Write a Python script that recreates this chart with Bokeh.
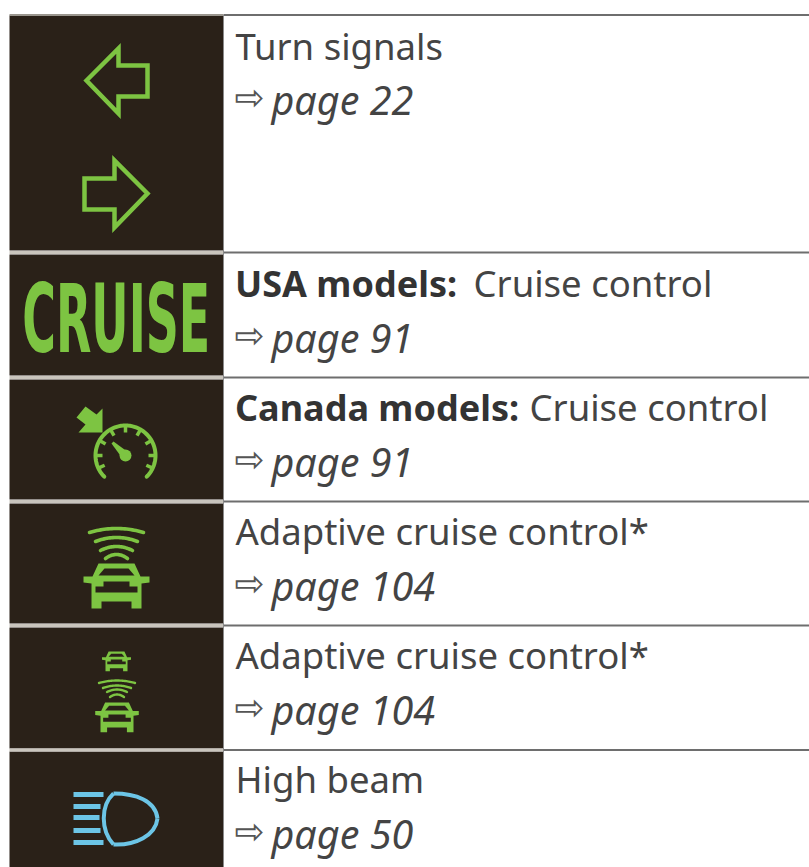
import numpy as np
from bokeh.plotting import figure
from bokeh.layouts import column
from bokeh.embed import file_html
from bokeh.resources import INLINE
from bokeh.core.properties import value

# ---- table content
head_plain = ["Turn signals", None, None, "Adaptive cruise control*", "Adaptive cruise control*", "High beam"]
head_bold = [None, "USA models:", "Canada models:", None, None, None]
head_tail = [None, "Cruise control", "Cruise control", None, None, None]
pages = ["page 22", "page 91", "page 91", "page 104", "page 104", "page 50"]
badge = "CRUISE"
ref_arrow = "\u21e8"

# ---- layout of the table in page pixels
row_top = [15, 254, 379, 503, 627, 751]
row_bot = [250, 375, 499, 623, 748, 867]
rule_y = [14.5, 252, 377, 501, 625, 749.5]
head_base = [60, 297, 421, 545, 669, 793]
page_base = [115, 353, 477, 601, 725, 849]
tail_x = [None, 473, 529, None, None, None]

DARK = "#2a2118"
GREEN = "#7dc442"
BLUE = "#6cc5e6"
INK = "#444444"
FONT = "Noto Sans"
DROP = 0.40   # the renderer sets an alphabetic baseline this many em too low


def up(y, size):
    return y - DROP * size


p = figure(width=809, height=867, x_range=(0, 809), y_range=(867, 0),
           output_backend="svg", toolbar_location=None,
           min_border=0, outline_line_color=None)
p.axis.visible = False
p.grid.visible = False
p.background_fill_color = "white"
p.border_fill_color = "white"

# ---- table frame
p.quad(left=9, right=223, top=row_top, bottom=row_bot, fill_color=DARK, line_color=None)
p.segment(x0=9, x1=223, y0=rule_y[1:], y1=rule_y[1:], line_color="#c9c5bd", line_width=3)
p.segment(x0=223, x1=809, y0=rule_y, y1=rule_y, line_color="#6e6e6e", line_width=2)
p.segment(x0=9, x1=223, y0=rule_y[:1], y1=rule_y[:1], line_color="#9a968e", line_width=2)
p.segment(x0=223, x1=223, y0=[15], y1=[867], line_color="#8a8a8a", line_width=1)

# ---- texts
for i in range(6):
    if head_plain[i]:
        p.text(x=[235], y=[up(head_base[i], 36.5)], text=[head_plain[i]], text_font=value(FONT),
               text_font_size="36.5px", text_color=INK, text_baseline="alphabetic")
    if head_bold[i]:
        p.text(x=[234.5], y=[up(head_base[i], 36)], text=[head_bold[i]], text_font=value(FONT),
               text_font_size="36px", text_font_style="bold", text_color="#333333",
               text_baseline="alphabetic")
        p.text(x=[tail_x[i]], y=[up(head_base[i], 36.5)], text=[head_tail[i]], text_font=value(FONT),
               text_font_size="36.5px", text_color=INK, text_baseline="alphabetic")
    p.text(x=[234], y=[up(page_base[i] - 4, 36)], text=[ref_arrow], text_font=value("DejaVu Sans"),
           text_font_size="36px", text_color="#555555", text_baseline="alphabetic")
    p.text(x=[271], y=[up(page_base[i], 39.5)], text=[pages[i]], text_font=value(FONT),
           text_font_size="39.5px", text_font_style="italic", text_color=INK,
           text_baseline="alphabetic")

# ---- turn signal arrows
p.patch(x=[86, 118, 118, 147, 147, 118, 118], y=[80, 48, 65, 65, 96, 96, 113],
        fill_color=None, line_color=GREEN, line_width=4.5, line_join="miter")
p.patch(x=[147, 114, 114, 84, 84, 114, 114], y=[193, 160, 178, 178, 209, 209, 227],
        fill_color=None, line_color=GREEN, line_width=4.5, line_join="miter")

# ---- gauge
cx, cy = 125, 455
a = np.radians(np.linspace(-135, 135, 80))
p.line(cx + 30 * np.sin(a), cy - 30 * np.cos(a), line_color=GREEN, line_width=4, line_cap="round")
t = np.radians([-115, -90, -60, -30, 0, 30, 60, 90, 115])
p.segment(cx + 23 * np.sin(t), cy - 23 * np.cos(t), cx + 30 * np.sin(t), cy - 30 * np.cos(t),
          line_color=GREEN, line_width=3.5)
p.patch(x=[111, 113, 128, 122], y=[443, 441, 452, 458], fill_color=GREEN, line_color=None)
p.scatter(x=[125], y=[455], size=12, fill_color=GREEN, line_color=None)
p.patch(x=[102, 102, 96, 85, 76, 85, 78], y=[432, 408, 414, 406, 417, 424, 432],
        fill_color=GREEN, line_color=None)

# ---- cars and waves
BODY_X = [-18, 18, 24, 33, 33, 25, 25, 15, 15, -15, -15, -25, -25, -33, -33, -24]
BODY_Y = [0, 0, 13, 13, 19, 20, 45, 45, 38, 38, 45, 45, 20, 19, 13, 13]
GLASS_X = [-12, 12, 18, -18]
GLASS_Y = [5, 5, 12, 12]
GRILL_X = [-13, 13, 13, 21, 21, -21, -21, -13]
GRILL_Y = [18, 18, 23, 23, 29, 29, 23, 23]


def car(x0, y0, s):
    xs, ys = np.array(BODY_X) * s + x0, np.array(BODY_Y) * s + y0
    p.patch(xs, ys, fill_color=GREEN, line_color=None)
    p.patch(np.array(GLASS_X) * s + x0, np.array(GLASS_Y) * s + y0, fill_color=DARK, line_color=None)
    p.patch(np.array(GRILL_X) * s + x0, np.array(GRILL_Y) * s + y0, fill_color=DARK, line_color=None)


def waves(x0, ys, hw, sag, w):
    for yy, h in zip(ys, hw):
        u = np.linspace(-1, 1, 30)
        p.line(x0 + h * u, yy + sag * u ** 2, line_color=GREEN, line_width=w, line_cap="round")


car(116, 563, 1.0)
waves(116, [528, 537, 546, 554], [27, 21, 16, 11], 4, 3.6)
car(116.5, 702, 0.66)
waves(116.5, [680, 685, 689, 694], [18, 14, 10, 7], 2.5, 2.4)
car(116, 651, 0.44)

# ---- high beam
p.segment(x0=[73] * 5, x1=[103, 100, 99, 100, 103], y0=[794, 806, 817, 830, 842],
          y1=[794, 806, 817, 830, 842], line_color=BLUE, line_width=5)
p.bezier(x0=[113, 157, 113], y0=[793, 818, 844], x1=[157, 113, 113], y1=[818, 844, 793],
         cx0=[135, 155, 100], cy0=[793, 835, 830], cx1=[155, 135, 100], cy1=[800, 845, 805],
         line_color=BLUE, line_width=4)

# ---- CRUISE badge: a condensed text, as a figure squeezed sideways
FACTOR = 0.489
Q_W = 960
q = figure(width=Q_W, height=140, x_range=(0, Q_W), y_range=(140, 0),
           output_backend="svg", toolbar_location=None, min_border=0,
           outline_line_color=None, background_fill_color=None, border_fill_color=None,
           styles={"position": "absolute", "left": "22px", "top": "235px",
                   "transform": f"scaleX({FACTOR})", "transform-origin": "left top",
                   "z-index": "5"})
q.axis.visible = False
q.grid.visible = False
q.text(x=[0], y=[up(122, 94)], text=[badge], text_font=value("DejaVu Sans"), text_font_size="94px",
       text_font_style="bold", text_color=GREEN, text_baseline="alphabetic")

page = column(p, q, spacing=0)
open("out.html", "w").write(file_html(page, INLINE))
